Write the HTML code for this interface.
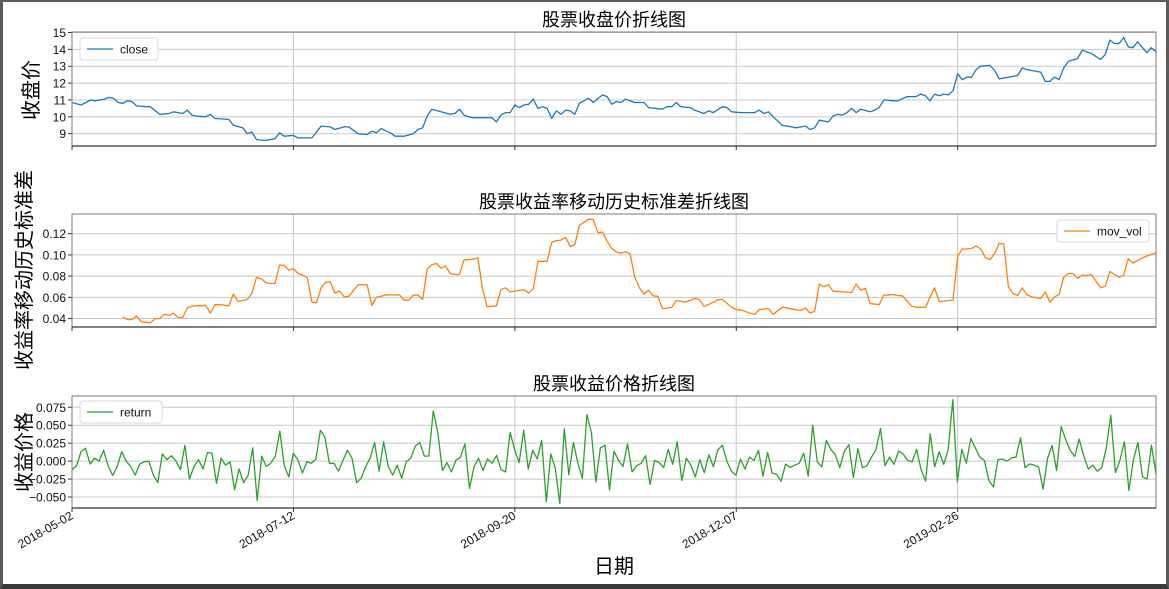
<!DOCTYPE html>
<html><head><meta charset="utf-8"><style>
html,body{margin:0;padding:0;background:#fff;}
#wrap{position:relative;width:1169px;height:589px;overflow:hidden;background:#fff;}
#frame{position:absolute;left:0;top:0;width:1163px;height:582px;border-left:3px solid #5a5a5a;border-top:2px solid #5a5a5a;border-right:3px solid #5a5a5a;border-bottom:5px solid #3a3a3a;pointer-events:none;}
svg text{font-family:"Liberation Sans","Noto Sans CJK SC",sans-serif;}
</style></head><body>
<div id="wrap">
<svg id="chart" width="1169" height="589"></svg>
<div id="frame"></div>
</div>
<script>
const NDAYS = 236;
const xTickDays = [0, 48, 96, 144, 192];
const xTickLabels = ["2018-05-02","2018-07-12","2018-09-20","2018-12-07","2019-02-26"];

const closeDays = [0,2,4,5,7,8,9,10,11,12,13,14,16,17,19,21,22,23,24,25,26,27,29,30,31,34,35,37,38,39,40,42,44,45,46,48,49,52,54,56,57,59,60,62,64,65,66,67,69,70,72,74,75,76,77,78,80,82,83,84,85,86,87,90,91,92,93,94,95,96,97,98,99,100,101,102,103,104,105,106,107,108,109,110,112,113,115,116,117,118,119,120,122,124,125,128,129,130,131,132,134,135,137,138,139,141,142,143,145,148,149,150,151,152,154,156,157,159,160,161,162,164,165,166,167,168,169,170,171,173,174,175,176,178,179,181,183,184,185,186,187,188,189,190,191,192,193,194,195,196,197,199,200,201,203,205,206,207,210,211,212,213,214,215,216,218,219,221,223,224,225,226,227,228,229,230,231,233,234,235];
const closeVals = [10.85,10.7,11.0,10.95,11.05,11.15,11.1,10.85,10.8,10.95,10.9,10.65,10.6,10.6,10.15,10.2,10.3,10.25,10.2,10.4,10.1,10.05,10.0,10.15,9.9,9.85,9.5,9.35,9.0,9.1,8.65,8.6,8.7,9.05,8.85,8.9,8.75,8.75,9.45,9.4,9.25,9.4,9.4,9.0,8.95,9.15,9.05,9.3,9.05,8.85,8.85,9.0,9.25,9.35,10.05,10.45,10.3,10.15,10.2,10.45,10.1,10.0,9.95,9.95,9.95,9.7,10.1,10.25,10.25,10.7,10.55,10.7,10.75,11.05,10.5,10.6,10.5,9.9,10.35,10.15,10.4,10.35,10.15,10.8,11.1,10.85,11.3,11.2,10.75,10.9,10.85,11.05,10.85,10.85,10.55,10.45,10.6,10.6,10.85,10.6,10.55,10.4,10.2,10.35,10.25,10.6,10.55,10.3,10.25,10.25,10.4,10.2,10.3,10.0,9.5,9.4,9.35,9.45,9.25,9.35,9.8,9.7,10.05,10.15,10.1,10.25,10.5,10.25,10.45,10.3,10.4,10.55,11.0,10.95,10.95,11.2,11.2,11.35,11.25,10.95,11.35,11.25,11.35,11.3,11.55,12.55,12.2,12.35,12.35,12.8,13.0,13.05,12.75,12.25,12.35,12.45,12.9,12.8,12.65,12.1,12.1,12.35,12.2,12.9,13.3,13.45,13.95,13.75,13.4,13.7,14.55,14.35,14.35,14.7,14.15,14.1,14.45,13.8,14.1,13.85];

const volDays = [
 11,12,13,14,15,17,18,19,20,21,
 22,23,24,25,26,27,29,30,31,32,
 34,35,36,38,39,40,41,42,43,44,
 45,46,47,48,49,50,51,52,53,54,
 55,56,57,58,59,60,62,64,65,66,
 67,68,71,72,73,74,75,76,77,78,
 79,80,81,82,83,84,85,86,87,88,
 89,90,91,92,93,94,95,96,98,99,
 100,101,103,104,105,106,107,108,109,110,
 112,113,114,115,116,117,118,119,120,121,
 122,123,124,125,126,127,128,130,131,133,
 135,136,137,138,140,141,143,144,145,147,
 148,149,151,152,154,157,158,159,160,161,
 162,163,164,165,167,169,170,171,172,173,
 175,176,178,179,180,182,183,185,186,187,
 188,191,192,193,195,196,197,198,199,200,
 201,202,203,204,205,206,207,208,210,211,
 212,213,214,215,216,217,218,219,220,221,
 223,224,225,226,227,228,229,230,232,233,
 235];
const volVals = [
 0.0415,0.039,0.039,0.0425,0.037,0.036,0.0396,0.040,0.044,0.043,
 0.045,0.041,0.041,0.050,0.0516,0.052,0.0525,0.045,0.053,0.053,
 0.052,0.063,0.056,0.058,0.0636,0.079,0.0775,0.074,0.073,0.073,
 0.0905,0.090,0.0857,0.087,0.0825,0.081,0.0785,0.0555,0.055,0.069,
 0.0743,0.0745,0.064,0.066,0.0605,0.061,0.0718,0.0717,0.0523,0.060,
 0.061,0.0623,0.0623,0.0573,0.0573,0.062,0.0623,0.058,0.0866,0.0907,
 0.092,0.0875,0.0895,0.0825,0.0815,0.0815,0.0955,0.0955,0.096,0.0973,
 0.068,0.051,0.0516,0.052,0.0674,0.069,0.065,0.066,0.0672,0.064,
 0.068,0.094,0.094,0.112,0.1135,0.114,0.1166,0.108,0.1095,0.128,
 0.1336,0.1336,0.121,0.1215,0.1128,0.106,0.103,0.1015,0.103,0.101,
 0.079,0.069,0.063,0.0668,0.0614,0.061,0.0494,0.0505,0.057,0.0555,
 0.0589,0.058,0.0515,0.053,0.0577,0.058,0.0507,0.0485,0.0482,0.045,
 0.044,0.0485,0.0494,0.044,0.0507,0.0482,0.0477,0.050,0.045,0.047,
 0.0725,0.070,0.072,0.0658,0.0652,0.0645,0.0725,0.0668,0.0686,0.0542,
 0.053,0.062,0.0626,0.0617,0.0614,0.0517,0.0507,0.0505,0.060,0.069,
 0.056,0.0574,0.0989,0.1055,0.106,0.1085,0.1055,0.0977,0.0955,0.101,
 0.111,0.1103,0.070,0.0636,0.0617,0.069,0.0626,0.0605,0.0589,0.065,
 0.0555,0.0605,0.0626,0.079,0.0825,0.0825,0.078,0.081,0.0806,0.0815,
 0.069,0.0706,0.0844,0.0815,0.079,0.081,0.0964,0.0924,0.097,0.0989,
 0.102];

const retVals = [-0.012,-0.0065,0.013,0.018,-0.004,0.004,0,0.015,-0.0065,-0.020,-0.0075,0.013,0,-0.0075,-0.0195,-0.004,-0.001,0,-0.0195,-0.030,0.010,0.002,0.0075,0,-0.012,0.022,-0.025,-0.008,0.002,-0.011,0.012,0.011,-0.031,0.004,-0.0055,-0.001,-0.040,-0.011,-0.030,-0.0195,0.0185,-0.055,0.007,-0.0075,-0.003,0.0065,0.042,-0.0065,-0.022,0.011,0.002,-0.0165,-0.001,-0.003,0.003,0.043,0.0335,-0.003,-0.003,-0.014,0.001,0.015,0.004,-0.030,-0.024,-0.008,0.004,0.026,-0.014,0.027,-0.0075,-0.0195,-0.0055,-0.024,-0.001,0.004,0.021,0.026,0.007,0.007,0.070,0.039,-0.013,-0.002,-0.015,0.001,0.0055,0.024,-0.038,-0.008,0.004,-0.013,0.003,-0.003,0.008,-0.012,-0.015,0.040,0.016,-0.002,0.043,-0.011,0.015,0.003,0.029,-0.057,0.010,-0.010,-0.059,0.045,-0.019,0.026,-0.003,-0.024,0.065,0.040,-0.029,0.0185,0.022,-0.040,0.014,0.001,-0.0075,0.024,-0.015,-0.0065,-0.003,0.0075,-0.0325,0.001,-0.002,-0.009,0.0165,-0.0045,0.027,-0.027,0.004,-0.0055,-0.022,0.002,-0.016,0.009,-0.008,0.016,0.022,0,-0.014,-0.0195,0.003,-0.011,0.0055,0.001,0.015,-0.021,0.012,-0.0165,-0.0185,-0.028,-0.004,-0.009,-0.0055,-0.003,0.011,-0.021,0.050,-0.001,-0.008,0.029,0.0165,0.009,-0.009,0.014,0.023,-0.023,0.0175,-0.009,-0.0065,0.0055,0.016,0.0455,-0.0065,0.0055,-0.0045,0.014,0.010,0.001,-0.001,0.0165,-0.012,-0.028,0.038,-0.008,0.013,-0.0045,0.016,0.0855,-0.029,0.0165,-0.003,0.0315,0.0185,0.0055,0.001,-0.027,-0.036,0.002,0.003,0,0.0045,0.0055,0.0325,-0.009,-0.004,-0.0055,-0.008,-0.039,0.004,0.022,-0.013,0.048,0.030,0.015,0.0065,0.0305,0.0075,-0.011,-0.0055,-0.014,-0.009,0.0185,0.064,-0.016,0.001,0.027,-0.041,0.002,0.026,-0.022,-0.025,0.022,-0.0185];

const closeTicks = [9,10,11,12,13,14,15];
const volTicks = [0.04,0.06,0.08,0.10,0.12];
const retTicks = [-0.050,-0.025,0.000,0.025,0.050,0.075];

const NS = "http://www.w3.org/2000/svg";
const svg = document.getElementById('chart');
const X0 = 72, X1 = 1156;
function xScale(d){ return X0 + d/(NDAYS-1)*(X1-X0); }
function mk(tag, attrs, parent){ const e=document.createElementNS(NS,tag); for(const k in attrs) e.setAttribute(k,attrs[k]); (parent||svg).appendChild(e); return e; }
function fmt(v,dec){ let s=Math.abs(v).toFixed(dec); return (v<0?'\u2212':'')+s; }

function panel(cfg){
  const g = mk('g',{});
  
  
  const yS = v => cfg.bottom - (v-cfg.ymin)/(cfg.ymax-cfg.ymin)*(cfg.bottom-cfg.top);
  cfg.ticks.forEach(t=>{
    const y=yS(t);
    const l=mk('line',{x1:X0,x2:X1,y1:y,y2:y,stroke:'#c8c8c8','stroke-width':1},g);
    
    
    const tk=mk('line',{x1:X0-4,x2:X0,y1:y,y2:y,stroke:'#333','stroke-width':1},g);
    
    
    const tx=mk('text',{x:X0-6,y:y+4.5,'text-anchor':'end','font-size':12,fill:'#111'},g);
    tx.textContent=fmt(t,cfg.dec);
    
    
  });
  xTickDays.forEach(d=>{
    const x=xScale(d);
    const l=mk('line',{x1:x,x2:x,y1:cfg.top,y2:cfg.bottom,stroke:'#c8c8c8','stroke-width':1},g);
    
    
    const tk=mk('line',{x1:x,x2:x,y1:cfg.bottom,y2:cfg.bottom+4,stroke:'#333','stroke-width':1},g);
    
    
  });
  const n = Math.min(cfg.days.length, cfg.vals.length);
  const pts = [];
  for(let i=0;i<n;i++) pts.push(xScale(cfg.days[i]).toFixed(1)+','+yS(cfg.vals[i]).toFixed(1));
  const pl = mk('polyline',{points:pts.join(' '),fill:'none',stroke:cfg.color,'stroke-width':1.3,'stroke-linejoin':'round'},g);
  
  
  const fr = mk('rect',{x:X0,y:cfg.top,width:X1-X0,height:cfg.bottom-cfg.top,fill:'none',stroke:'#7a7a7a','stroke-width':1},g);
  
  
  const bl = mk('line',{x1:X0,x2:X1,y1:cfg.bottom,y2:cfg.bottom,stroke:'#333','stroke-width':1.2},g);
  
  
  const tt = mk('text',{x:(X0+X1)/2,y:cfg.top-6,'text-anchor':'middle','font-size':18,fill:'#000'},g);
  tt.textContent = cfg.title;
  
  
  const yl = mk('text',{x:0,y:0,'text-anchor':'middle','font-size':20,fill:'#000',transform:'translate('+cfg.ylx+','+cfg.yly+') rotate(-90)'},g);
  yl.textContent = cfg.ylabel;
  
  
  const lg = mk('g',{},g);
  
  
  mk('rect',{x:cfg.lx,y:cfg.ly,width:cfg.lw,height:22,rx:3,fill:'#fff',stroke:'#d8d8d8','stroke-width':1},lg);
  mk('line',{x1:cfg.lx+7,x2:cfg.lx+33,y1:cfg.ly+11,y2:cfg.ly+11,stroke:cfg.color,'stroke-width':1.3},lg);
  const lt = mk('text',{x:cfg.lx+40,y:cfg.ly+15.5,'font-size':12,fill:'#111','font-family':'"Liberation Mono",monospace'},lg);
  lt.textContent = cfg.legend;
  
  
}

panel({name:'close',top:32,bottom:146,ymin:8.27,ymax:15.03,ticks:closeTicks,dec:0,days:closeDays,vals:closeVals,color:'#1f77b4',title:'股票收盘价折线图',ylabel:'收盘价',ylx:38,yly:90,lx:80,ly:38,lw:78,legend:'close'});
panel({name:'mov-vol',top:214,bottom:327,ymin:0.032,ymax:0.1386,ticks:volTicks,dec:2,days:volDays,vals:volVals,color:'#ff7f0e',title:'股票收益率移动历史标准差折线图',ylabel:'收益率移动历史标准差',ylx:31,yly:270,lx:1057,ly:220,lw:92,legend:'mov_vol'});
const retDays = retVals.map((v,i)=>i*(NDAYS-1)/(retVals.length-1));
panel({name:'return',top:396,bottom:508,ymin:-0.0653,ymax:0.0907,ticks:retTicks,dec:3,days:retDays,vals:retVals,color:'#2ca02c',title:'股票收益价格折线图',ylabel:'收益价格',ylx:31,yly:452,lx:80,ly:401,lw:82,legend:'return'});

xTickDays.forEach((d,i)=>{
  const x=xScale(d);
  const t=mk('text',{x:0,y:0,'text-anchor':'end','font-size':12,fill:'#111',transform:'translate('+(x+2)+',518) rotate(-30)'});
  t.textContent=xTickLabels[i];
  
  
});
const xl = mk('text',{x:614,y:573,'text-anchor':'middle','font-size':20,fill:'#000'});
xl.textContent='日期';


</script>
</body></html>
